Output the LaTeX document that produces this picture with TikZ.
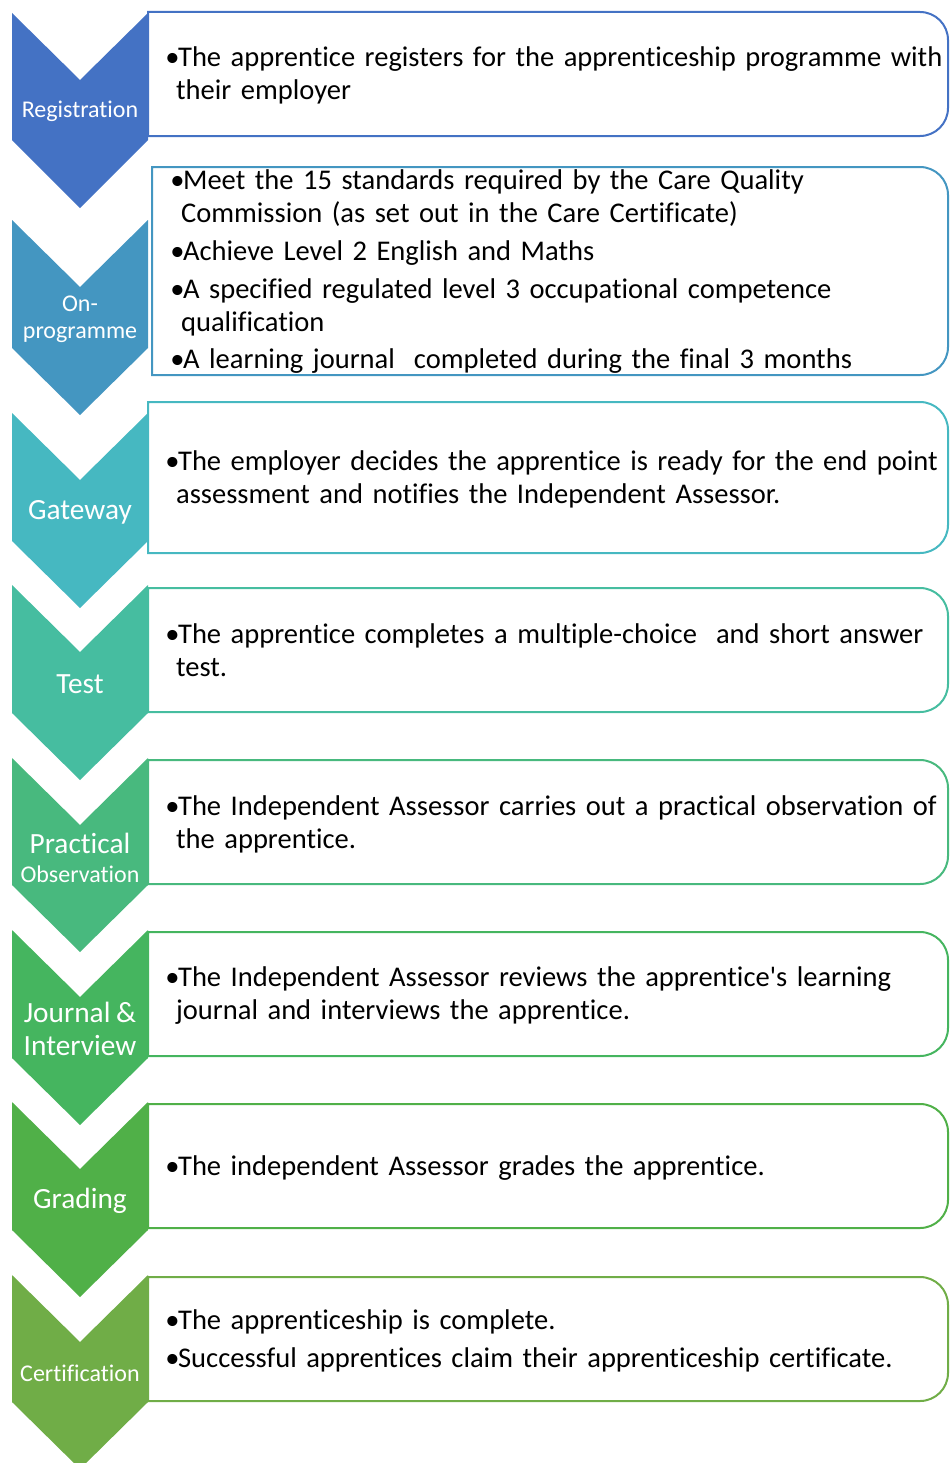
\documentclass[tikz,border=0pt]{standalone}
\usepackage{fontspec}
\setmainfont{Carlito}[WordSpace=0.85,Ligatures=NoCommon]
\usepackage{xcolor}
\definecolor{regcol}{HTML}{4472C4}
\definecolor{oncol}{HTML}{4496C1}
\definecolor{gatecol}{HTML}{46B8C1}
\definecolor{testcol}{HTML}{46BDA0}
\definecolor{praccol}{HTML}{48B97E}
\definecolor{jourcol}{HTML}{45B55F}
\definecolor{gradcol}{HTML}{50B048}
\definecolor{certcol}{HTML}{70AD47}
\newcommand{\bul}{\makebox[0.45em][l]{•}}
\newcommand{\ind}{\hspace*{0.38em}}
\tikzset{
  box/.style={line width=1.5pt},
  chevtext/.style={text=white, align=center, inner sep=0pt},
  bigtext/.style={chevtext, font=\fontsize{22}{24.75}\selectfont},
  smalltext/.style={chevtext, font=\fontsize{18}{20.25}\selectfont},
  itemtext/.style={anchor=west, inner sep=0pt, text width=610pt, align=left,
    font=\fontsize{21.4}{24.75}\selectfont}
}

\begin{document}
\begin{tikzpicture}[x=0.75pt,y=-0.75pt]
      \useasboundingbox (0,0) rectangle (950,1463);
      % chevrons
      \fill[regcol] (12,13) -- (80,80) -- (148,13) -- (148,140) -- (80,208) -- (12,140) -- cycle;
      \fill[oncol] (12,220) -- (80,287) -- (148,220) -- (148,348) -- (80,415) -- (12,348) -- cycle;
      \fill[gatecol] (12,413) -- (80,480) -- (148,413) -- (148,541) -- (80,608) -- (12,541) -- cycle;
      \fill[testcol] (12,585) -- (80,652) -- (148,585) -- (148,713) -- (80,780) -- (12,713) -- cycle;
      \fill[praccol] (12,758) -- (80,825) -- (148,758) -- (148,885) -- (80,952) -- (12,885) -- cycle;
      \fill[jourcol] (12,930) -- (80,997) -- (148,930) -- (148,1058) -- (80,1125) -- (12,1058) -- cycle;
      \fill[gradcol] (12,1102) -- (80,1169) -- (148,1102) -- (148,1230) -- (80,1297) -- (12,1230) -- cycle;
      \fill[certcol] (12,1275) -- (80,1342) -- (148,1275) -- (148,1402) -- (80,1469) -- (12,1402) -- cycle;
      % labels on the chevrons
      \node[smalltext] (reg) at (80,111) {Registration};
      \node[smalltext] (onprog) at (80,319) {On-\\programme};
      \node[bigtext] (gate) at (80,512) {Gateway};
      \node[bigtext] (test) at (80,684) {Test};
      \node[chevtext, font=\fontsize{18}{22}\selectfont] (prac) at (80,858) {{\fontsize{22}{24.75}\selectfont Practical}\\Observation};
      \node[bigtext] (jour) at (80,1029) {Journal \&\\Interview};
      \node[bigtext] (grad) at (80,1201) {Grading};
      \node[smalltext] (cert) at (80,1373) {Certification};
      % boxes, rounded on the right only
      \draw[regcol,box] (548,12) [rounded corners=21pt] -- (948,12) -- (948,136) -- (548,136) [sharp corners] -- (148,136) -- (148,12) -- cycle;
      \draw[oncol,box] (548,167) [rounded corners=21pt] -- (948,167) -- (948,375) -- (548,375) [sharp corners] -- (152,375) -- (152,167) -- cycle;
      \draw[gatecol,box] (548,402) [rounded corners=21pt] -- (948,402) -- (948,553) -- (548,553) [sharp corners] -- (148,553) -- (148,402) -- cycle;
      \draw[testcol,box] (548,588) [rounded corners=21pt] -- (948,588) -- (948,712) -- (548,712) [sharp corners] -- (148,712) -- (148,588) -- cycle;
      \draw[praccol,box] (548,760) [rounded corners=21pt] -- (948,760) -- (948,884) -- (548,884) [sharp corners] -- (148,884) -- (148,760) -- cycle;
      \draw[jourcol,box] (548,932) [rounded corners=21pt] -- (948,932) -- (948,1056) -- (548,1056) [sharp corners] -- (148,1056) -- (148,932) -- cycle;
      \draw[gradcol,box] (548,1104) [rounded corners=21pt] -- (948,1104) -- (948,1228) -- (548,1228) [sharp corners] -- (148,1228) -- (148,1104) -- cycle;
      \draw[certcol,box] (548,1277) [rounded corners=21pt] -- (948,1277) -- (948,1401) -- (548,1401) [sharp corners] -- (148,1401) -- (148,1277) -- cycle;
      % texts in the boxes
      \node[itemtext] (regtext) at (165,75) {\bul The apprentice registers for the apprenticeship programme with\\\ind their employer};
      \node[itemtext] (ontext) at (170,272) {\bul Meet the 15 standards required by the Care Quality\\\ind Commission (as set out in the Care Certificate)\\[3.5pt]\bul Achieve Level 2 English and Maths\\[3.5pt]\bul A specified regulated level 3 occupational competence\\\ind qualification\\[3.5pt]\bul A learning journal\ \ completed during the final 3 months};
      \node[itemtext] (gatetext) at (165,479) {\bul The employer decides the apprentice is ready for the end point\\\ind assessment and notifies the Independent Assessor.};
      \node[itemtext] (testtext) at (165,650) {\bul The apprentice completes a multiple-choice\ \ and short answer\\\ind test.};
      \node[itemtext] (practext) at (165,824) {\bul The Independent Assessor carries out a practical observation of\\\ind the apprentice.};
      \node[itemtext] (jourtext) at (165,996) {\bul The Independent Assessor reviews the apprentice\textquotesingle s learning\\\ind journal and interviews the apprentice.};
      \node[itemtext] (gradtext) at (165,1168) {\bul The independent Assessor grades the apprentice.};
      \node[itemtext] (certtext) at (165,1341) {\bul The apprenticeship is complete.\\[3.5pt]\bul Successful apprentices claim their apprenticeship certificate.};
\end{tikzpicture}
\end{document}
